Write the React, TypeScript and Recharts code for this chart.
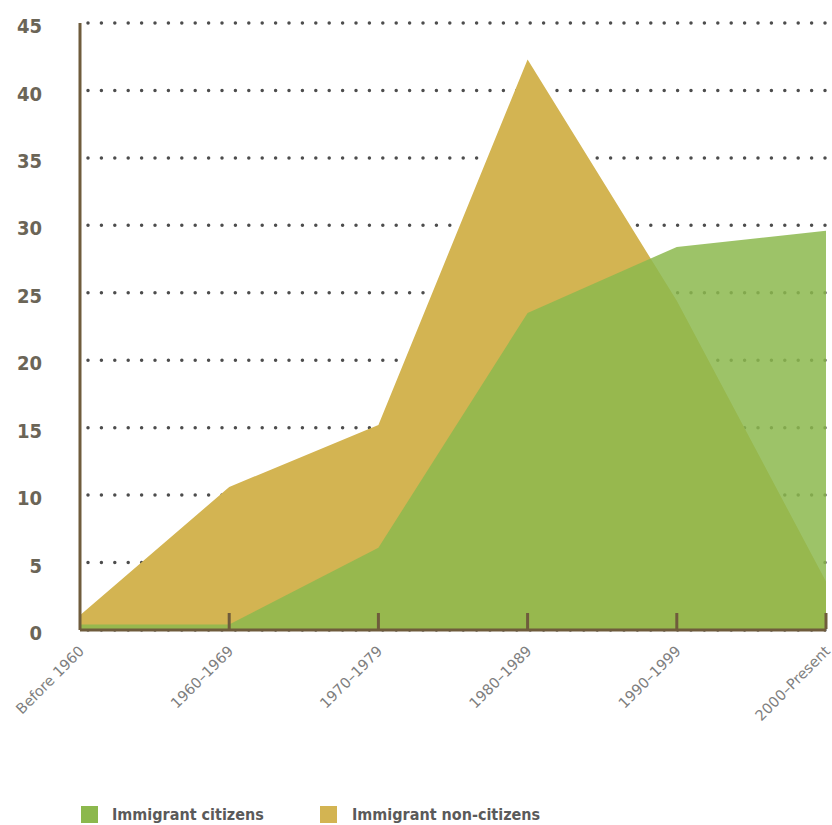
import { Area, AreaChart, CartesianGrid, XAxis, YAxis } from "recharts";

const periods = [
  "Before 1960",
  "1960–1969",
  "1970–1979",
  "1980–1989",
  "1990–1999",
  "2000–Present",
];
const citizens = [0.4, 0.4, 6.1, 23.5, 28.4, 29.6];
const nonCitizens = [1.1, 10.6, 15.2, 42.3, 24.4, 3.6];
const yTicks = [0, 5, 10, 15, 20, 25, 30, 35, 40, 45];

const data = periods.map((name, i) => ({
  name,
  citizens: citizens[i],
  nonCitizens: nonCitizens[i],
}));

const GREEN = "#8cb84d";
const YELLOW = "#d3b452";
const AXIS = "#6f5c3c";

function XTick(props: any) {
  const { x, y, payload, index } = props;
  const tx = x + 5;
  const ty = y + 22;
  return (
    <g>
      {index > 0 && (
        <line x1={x} x2={x} y1={y - 1} y2={y - 17} stroke={AXIS} strokeWidth={3} />
      )}
      <text
        x={tx}
        y={ty}
        textAnchor="end"
        transform={`rotate(-45, ${tx}, ${ty})`}
        fill="#7e7e7e"
        fontSize={14.5}
        fontFamily="'DejaVu Sans', sans-serif"
      >
        {payload.value}
      </text>
    </g>
  );
}

export default function App() {
  return (
    <div style={{ position: "absolute", top: 0, left: 0, width: 832, height: 825, background: "#fff" }}>
      <AreaChart
        width={832}
        height={825}
        data={data}
        margin={{ top: 23, right: 6, left: 0, bottom: 0 }}
      >
        <CartesianGrid
          vertical={false}
          x={88}
          width={744}
          stroke="#4d4d4d"
          strokeWidth={3.5}
          strokeDasharray="0 13.4"
          strokeLinecap="round"
        />
        <XAxis
          dataKey="name"
          height={195}
          tickSize={0}
          tickMargin={0}
          interval={0}
          axisLine={{ stroke: AXIS, strokeWidth: 3 }}
          tickLine={false}
          tick={<XTick />}
        />
        <YAxis
          width={80}
          domain={[0, 45]}
          ticks={yTicks}
          interval={0}
          tickSize={0}
          tickMargin={38}
          axisLine={{ stroke: AXIS, strokeWidth: 3 }}
          tickLine={false}
          tick={{
            fill: "#6b6557",
            fontSize: 20,
            fontWeight: 700,
            fontFamily: "'DejaVu Sans Condensed', 'DejaVu Sans', sans-serif",
            dy: 3,
          }}
        />
        <Area
          type="linear"
          dataKey="nonCitizens"
          fill={YELLOW}
          fillOpacity={1}
          stroke="none"
          isAnimationActive={false}
        />
        <Area
          type="linear"
          dataKey="citizens"
          fill={GREEN}
          fillOpacity={0.85}
          stroke="none"
          isAnimationActive={false}
        />
      </AreaChart>
      <div
        style={{
          position: "absolute",
          top: 805,
          left: 81,
          display: "flex",
          alignItems: "center",
          fontFamily: "'DejaVu Sans Condensed', 'DejaVu Sans', sans-serif",
          fontWeight: 600,
          fontSize: 16,
          color: "#5a5a5a",
        }}
      >
        <span style={{ width: 17, height: 17, background: GREEN, display: "inline-block" }} />
        <span style={{ marginLeft: 14, width: 208 }}>Immigrant citizens</span>
        <span style={{ width: 17, height: 17, background: YELLOW, display: "inline-block" }} />
        <span style={{ marginLeft: 15 }}>Immigrant non-citizens</span>
      </div>
    </div>
  );
}
